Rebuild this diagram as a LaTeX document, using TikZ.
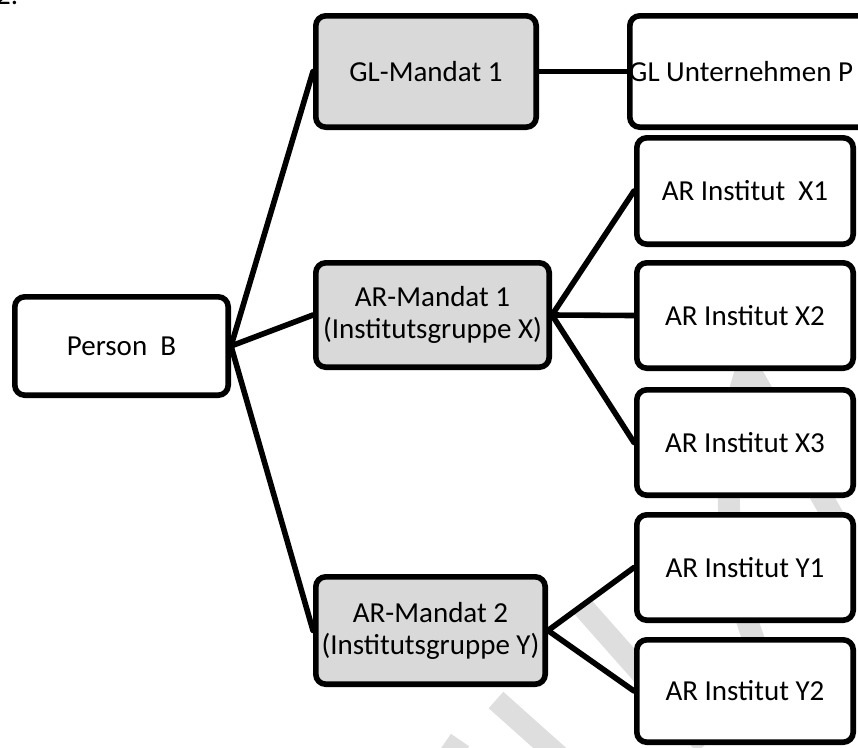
\documentclass[tikz,border=0pt]{standalone}
\usepackage{fontspec}
\setmainfont{Carlito}
\usetikzlibrary{backgrounds}
\definecolor{boxgray}{RGB}{217,217,217}
\definecolor{wmgray}{RGB}{222,222,222}
\begin{document}
\begin{tikzpicture}[x=1pt,y=-1pt,
  txt/.style={font=\fontsize{29}{32}\selectfont},
  box/.style={draw=black, line width=5.6pt, rounded corners=10pt, fill=white,
              inner sep=0pt, align=center, txt},
  mandat/.style={box, fill=boxgray},
  inst/.style={box, minimum width=216.4pt},
  link/.style={line width=5.6pt, line cap=round},
  wmstroke/.style={draw=wmgray, line width=22pt}
]
\useasboundingbox (0,0) rectangle (858,747);

% fragment of the preceding heading at the top edge
\node[txt, anchor=base west, inner sep=0pt] (headnum) at (-4,4.7) {2.};

% root
\node[box, minimum width=213.4pt, minimum height=98.4pt] (pb) at (121.5,346) {Person~~B};

% mandates
\node[mandat, minimum width=220.4pt, minimum height=111.4pt] (gl1) at (426,71.5) {GL-Mandat 1};
\node[mandat, minimum width=233.4pt, minimum height=104.4pt] (ar1) at (432.5,315) {AR-Mandat 1\\(Institutsgruppe X)};
\node[mandat, minimum width=229.4pt, minimum height=107.4pt] (ar2) at (430.5,630.5) {AR-Mandat 2\\(Institutsgruppe Y)};

% companies and institutes
\node[box, minimum width=247.4pt, minimum height=111.4pt] (glp) at (753.5,71.5) {};
\node[txt, anchor=west, inner sep=0pt] (glptext) at (629,71.5) {GL Unternehmen P};
\node[inst, minimum height=106.4pt] (x1) at (745,191) {AR Institut~~X1};
\node[inst, minimum height=105.4pt] (x2) at (745,315.5) {AR Institut X2};
\node[inst, minimum height=105.4pt] (x3) at (745,442.5) {AR Institut X3};
\node[inst, minimum height=105.4pt] (y1) at (745,567.5) {AR Institut Y1};
\node[inst, minimum height=102.4pt] (y2) at (745,691) {AR Institut Y2};

\begin{pgfonlayer}{background}
  % faint watermark strokes
  \path[wmstroke] (496,700) -- (580,775);
  \path[wmstroke] (582,606) -- (705,745);
  \path[wmstroke] (436,775) -- (460,740);
  \path[wmstroke] (750,360) .. controls (722,430) and (718,560) .. (760,655);
  \path[wmstroke] (745,362) -- (835,520);

  % connectors
  \draw[link] (pb.east) -- (gl1.west);
  \draw[link] (pb.east) -- (ar1.west);
  \draw[link] (pb.east) -- (ar2.west);
  \draw[link] (gl1.east) -- (glp.west);
  \draw[link] (ar1.east) -- (x1.west);
  \draw[link] (ar1.east) -- (x2.west);
  \draw[link] (ar1.east) -- (x3.west);
  \draw[link] (ar2.east) -- (y1.west);
  \draw[link] (ar2.east) -- (y2.west);
\end{pgfonlayer}
\end{tikzpicture}
\end{document}
